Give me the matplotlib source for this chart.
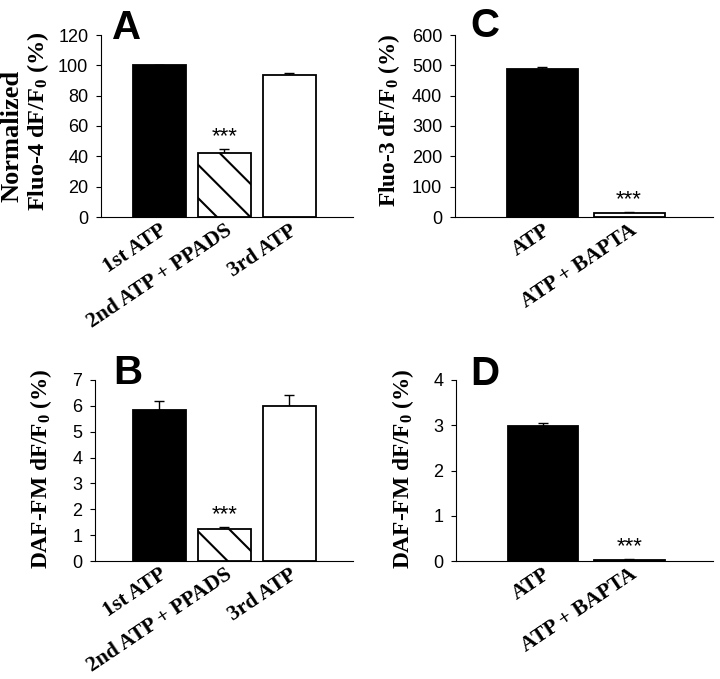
#%% Imports
import matplotlib
matplotlib.use('Agg')
import matplotlib.pyplot as plt
from matplotlib.transforms import ScaledTranslation


#%% Data
#   A: normalized Fluo-4 response to repeated ATP, PPADS on the 2nd one
labelsAB = ['1st ATP', '2nd ATP + PPADS', '3rd ATP']
fluo4Mean = [100.0, 42.0, 93.6]
fluo4Err = [0.0, 2.7, 1.5]
#   B: DAF-FM response, same protocol
dafAB_Mean = [5.84, 1.25, 6.0]
dafAB_Err = [0.36, 0.05, 0.41]

#   C: Fluo-3 response to ATP with / without BAPTA
labelsCD = ['ATP', 'ATP + BAPTA']
fluo3Mean = [487.0, 14.0]
fluo3Err = [7.0, 2.0]
#   D: DAF-FM response to ATP with / without BAPTA
dafCD_Mean = [2.98, 0.03]
dafCD_Err = [0.07, 0.02]

#   which bars carry the *** mark
sigAB = [False, True, False]
sigCD = [False, True]


#%% Style
plt.rcParams['hatch.linewidth'] = 1.5
plt.rcParams['mathtext.fontset'] = 'custom'
plt.rcParams['mathtext.rm'] = 'Liberation Serif:bold'
plt.rcParams['mathtext.it'] = 'Liberation Serif:bold'
plt.rcParams['mathtext.bf'] = 'Liberation Serif:bold'

W, H = 720, 679
fig = plt.figure(figsize=(W / 100, H / 100), dpi=100)


def px_axes(left, top, right, bottom):
    # axes from pixel box (origin at top-left of the picture)
    return fig.add_axes([left / W, 1 - bottom / H, (right - left) / W, (bottom - top) / H])


def bar_panel(ax, labels, means, errs, sig, faces, hatches, ymax, ystep, xlim, width):
    x = list(range(len(labels)))
    ax.bar(x, means, width=width, color=faces, edgecolor='black', linewidth=1.3,
           hatch=hatches, zorder=3,
           yerr=[[0] * len(errs), errs],
           error_kw=dict(ecolor='black', elinewidth=1.0, capsize=3.6, capthick=1.0, zorder=2))
    for xi, m, e, s in zip(x, means, errs, sig):
        if s:
            ax.annotate('***', xy=(xi, m + e), xytext=(0, 9), textcoords='offset points',
                        ha='center', va='center', fontsize=16, family='Liberation Sans')
    ax.set_xlim(*xlim)
    ax.set_ylim(0, ymax)
    ax.set_yticks([ystep * i for i in range(int(round(ymax / ystep)) + 1)])
    ax.set_xticks(x)
    ax.set_xticklabels(labels, rotation=34, ha='right', va='top', rotation_mode='anchor',
                       fontsize=15.6, family='Liberation Serif', fontweight='bold')
    # nudge the rotated labels a little to the left, as in the original
    shift = ScaledTranslation(-4.5 / 72, 0, fig.dpi_scale_trans)
    for t in ax.get_xticklabels():
        t.set_transform(t.get_transform() + shift)
    ax.tick_params(axis='x', length=0, pad=2.5)
    ax.tick_params(axis='y', direction='out', length=3.6, width=0.8, pad=5.5, labelsize=13)
    for t in ax.get_yticklabels():
        t.set_family('Liberation Sans')
    for side in ['top', 'right']:
        ax.spines[side].set_visible(False)
    for side in ['left', 'bottom']:
        ax.spines[side].set_linewidth(0.8)
    ax.patch.set_alpha(0)


facesAB = ['black', 'white', 'white']
hatchAB = ['', '\\', '']
facesCD = ['black', 'white']
hatchCD = ['', '']

#%% Panel A
axA = px_axes(101, 35, 353, 217)
bar_panel(axA, labelsAB, fluo4Mean, fluo4Err, sigAB, facesAB, hatchAB, 120, 20, (-0.9, 2.977), 0.815)

#%% Panel B
axB = px_axes(95, 380, 353, 561)
bar_panel(axB, labelsAB, dafAB_Mean, dafAB_Err, sigAB, facesAB, hatchAB, 7, 1, (-0.992, 2.977), 0.815)

#%% Panel C
axC = px_axes(455, 35, 713, 217)
bar_panel(axC, labelsCD, fluo3Mean, fluo3Err, sigCD, facesCD, hatchCD, 600, 100, (-1.01, 1.97), 0.82)

#%% Panel D
axD = px_axes(456, 380, 713, 561)
bar_panel(axD, labelsCD, dafCD_Mean, dafCD_Err, sigCD, facesCD, hatchCD, 4, 1, (-1.01, 1.97), 0.82)


#%% Y labels and panel letters (pixel positions)
def ftext(x, y, s, **kw):
    fig.text(x / W, 1 - y / H, s, **kw)


ylab = dict(rotation=90, ha='center', va='center', fontsize=16.8,
            family='Liberation Serif', fontweight='bold')
ftext(12, 136, 'Normalized', **dict(ylab, fontsize=19))
ftext(38, 121, 'Fluo-4 dF/F$_0$ (%)', **dict(ylab, fontsize=17.5))
ftext(389, 120, 'Fluo-3 dF/F$_0$ (%)', **ylab)
ftext(41, 469, 'DAF-FM dF/F$_0$ (%)', **ylab)
ftext(403, 469, 'DAF-FM dF/F$_0$ (%)', **ylab)

letter = dict(ha='left', va='baseline', fontsize=29, family='Liberation Sans', fontweight='bold')
ftext(112, 39, 'A', **letter)
ftext(470, 37, 'C', **letter)
ftext(113, 384, 'B', **letter)
ftext(470, 385, 'D', **letter)

fig.savefig('out.png', dpi=100)
